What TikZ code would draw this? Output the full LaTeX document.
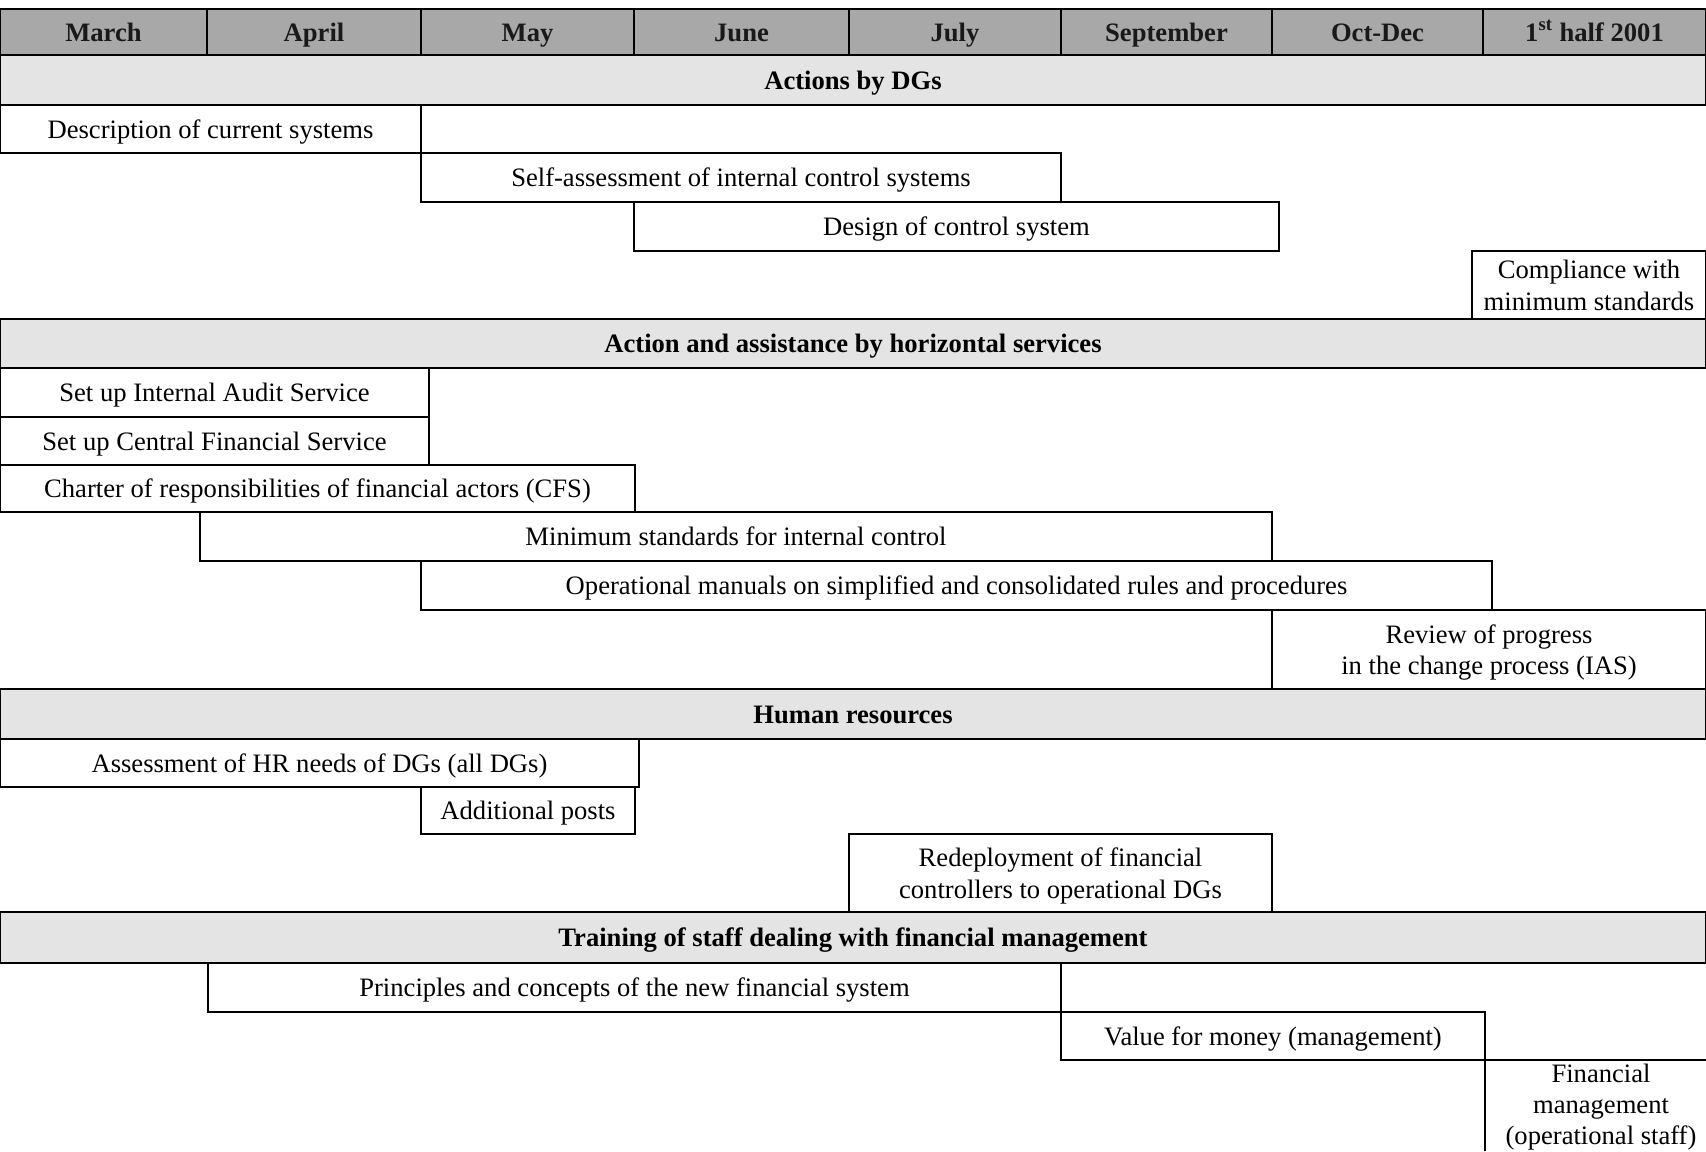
\documentclass[tikz,border=0pt]{standalone}
\usepackage{fontspec}
\setmainfont{Liberation Serif}
\definecolor{hdrgray}{HTML}{A8A8A8}
\definecolor{bandgray}{HTML}{E4E4E4}
% \gbox[style]{name}{x1}{y1}{x2}{y2}{text}: a box from (x1,y1) to (x2,y2), text centred
\newcommand\gbox[7][taskbox]{%
  \node[#1, minimum width={(#5-#3)*0.5pt}, minimum height={(#6-#4)*0.5pt}] (#2) at (#3,#4) {#7};}
\begin{document}
\begin{tikzpicture}[x=0.5pt,y=-0.5pt,
  every node/.style={font=\fontsize{13.3}{15.8}\selectfont, inner sep=0pt, outer sep=0pt},
  taskbox/.style={draw, line width=0.9pt, align=center, anchor=north west,
    text height=11.5pt, text depth=2.5pt},
  twoline/.style={draw, line width=0.9pt, align=center, anchor=north west,
    text depth=0pt},
  band/.style={taskbox, fill=bandgray, font=\fontsize{13.3}{15.8}\selectfont\bfseries},
  hdr/.style={taskbox, line width=1.2pt, fill=hdrgray, text=black!90,
    font=\fontsize{13.3}{15.8}\selectfont\bfseries},
  openline/.style={line width=0.9pt}]
\useasboundingbox (0,0) rectangle (1706,1151);

% month header
\gbox[hdr]{mar}{0}{9}{207}{55}{March}
\gbox[hdr]{apr}{207}{9}{421}{55}{April}
\gbox[hdr]{may}{421}{9}{634}{55}{May}
\gbox[hdr]{jun}{634}{9}{849}{55}{June}
\gbox[hdr]{jul}{849}{9}{1061}{55}{July}
\gbox[hdr]{sep}{1061}{9}{1272}{55}{September}
\gbox[hdr]{oct}{1272}{9}{1483}{55}{Oct-Dec}
\gbox[hdr]{h01}{1483}{9}{1706}{55}{1\textsuperscript{st} half 2001}

% actions by DGs
\gbox[band]{bandA}{0}{55}{1706}{105}{Actions by DGs}
\gbox{desc}{0}{105}{421}{153}{Description of current systems}
\gbox{selfa}{421}{153}{1061}{202}{Self-assessment of internal control systems}
\gbox{design}{634}{202}{1279}{251}{Design of control system}
\gbox[twoline]{compl}{1472}{251}{1706}{319}{Compliance with\\minimum standards}

% horizontal services
\gbox[band]{bandB}{0}{319}{1706}{368}{Action and assistance by horizontal services}
\gbox{ias}{0}{368}{429}{417}{Set up Internal Audit Service}
\gbox{cfs}{0}{417}{429}{465}{Set up Central Financial Service}
\gbox{charter}{0}{465}{635}{512}{Charter of responsibilities of financial actors (CFS)}
\gbox{minstd}{200}{512}{1272}{561}{Minimum standards for internal control}
\gbox{opman}{421}{561}{1492}{610}{Operational manuals on simplified and consolidated rules and procedures}
\gbox[twoline]{review}{1272}{610}{1706}{689}{Review of progress\\in the change process (IAS)}

% human resources
\gbox[band]{bandC}{0}{689}{1706}{739}{Human resources}
\gbox{hrneeds}{0}{739}{639}{787}{Assessment of HR needs of DGs (all DGs)}
\gbox{posts}{421}{787}{635}{834}{Additional posts}
\gbox[twoline]{redeploy}{849}{834}{1272}{912}{Redeployment of financial\\controllers to operational DGs}

% training
\gbox[band]{bandD}{0}{912}{1706}{963}{Training of staff dealing with financial management}
\gbox{princ}{208}{963}{1061}{1012}{Principles and concepts of the new financial system}
\gbox{vfm}{1061}{1012}{1485}{1060}{Value for money (management)}
\node[align=center, anchor=north, font=\fontsize{13.3}{15.4}\selectfont]
  (finman) at (1601,1064) {Financial\\management\\(operational staff)};
\coordinate (fmtl) at (1485,1060);
\coordinate (fmbl) at (1485,1151);
\coordinate (fmtr) at (1706,1060);
\draw[openline] (fmbl) -- (fmtl) -- (fmtr);
\end{tikzpicture}
\end{document}
